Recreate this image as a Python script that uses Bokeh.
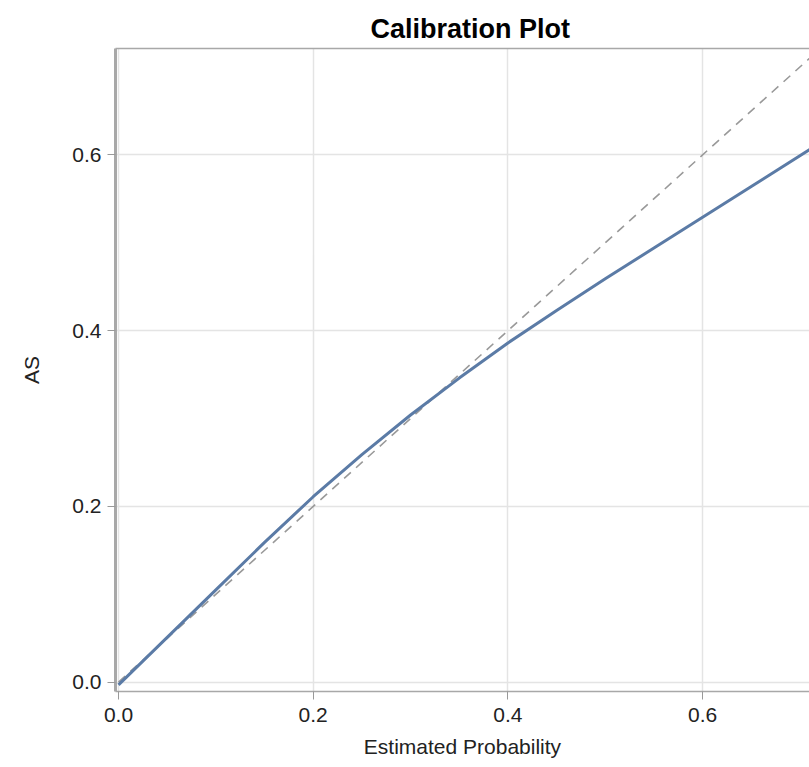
from bokeh.plotting import figure
from bokeh.models import Range1d, FixedTicker, LinearAxis, PrintfTickFormatter
from bokeh.embed import file_html
from bokeh.resources import INLINE

# Calibration curve (estimated probability vs observed AS)
est_prob = [0.0, 0.05, 0.10, 0.15, 0.20, 0.25, 0.30, 0.35, 0.40, 0.45, 0.50, 0.55, 0.60, 0.65, 0.71]
observed = [-0.003, 0.051, 0.105, 0.159, 0.211, 0.259, 0.304, 0.346, 0.386, 0.423, 0.459, 0.494, 0.529, 0.564, 0.606]
# Reference diagonal
diag_x = [0.0, 0.75]
diag_y = [0.0, 0.75]
ticks = [0.0, 0.2, 0.4, 0.6]

FONT = "Liberation Sans"

p = figure(width=809, height=762, output_backend="svg", toolbar_location=None,
           x_range=Range1d(-0.0031, 0.7098), y_range=Range1d(-0.0106, 0.721),
           title="Calibration Plot",
           min_border_left=115, min_border_right=0, min_border_top=48, min_border_bottom=71)

p.title.align = "left"
p.title.offset = 255
p.title.text_font = FONT
p.title.text_font_size = "27px"
p.title.text_font_style = "bold"
p.title.text_color = "#000000"

p.outline_line_color = None
p.background_fill_color = "white"
p.border_fill_color = "white"

for ax in (p.xaxis[0], p.yaxis[0]):
    ax.ticker = FixedTicker(ticks=ticks)
    ax.formatter = PrintfTickFormatter(format="%.1f")
    ax.major_label_text_font = FONT
    ax.major_label_text_font_size = "21px"
    ax.major_label_text_color = "#222222"
    ax.axis_label_text_font = FONT
    ax.axis_label_text_font_size = "21px"
    ax.axis_label_text_font_style = "normal"
    ax.axis_label_text_color = "#222222"
    ax.major_tick_line_color = "#999999"
    ax.major_tick_in = 0
    ax.major_tick_out = 8
    ax.minor_tick_line_color = None
    ax.axis_line_color = "#a8a8a8"

p.xaxis[0].axis_label = "Estimated Probability"
p.yaxis[0].axis_label = "AS"
p.xaxis[0].axis_line_width = 1.5
p.yaxis[0].axis_line_width = 3
p.xaxis[0].major_label_standoff = 8
p.yaxis[0].major_label_standoff = 6
p.yaxis[0].axis_label_standoff = 26
p.xaxis[0].axis_label_standoff = 10

top_axis = LinearAxis(major_tick_line_color=None, minor_tick_line_color=None,
                      major_label_text_font_size="0px", axis_line_color="#a8a8a8",
                      axis_line_width=1.5)
top_axis.ticker = FixedTicker(ticks=[])
p.add_layout(top_axis, "above")

p.xgrid.grid_line_color = "#e4e4e4"
p.ygrid.grid_line_color = "#e4e4e4"
p.xgrid.grid_line_width = 1.5
p.ygrid.grid_line_width = 1.5

p.line(diag_x, diag_y, line_color="#999999", line_width=1.6, line_dash="9 7")
p.line(est_prob, observed, line_color="#5b7ba6", line_width=3)

open("out.html", "w").write(file_html(p, INLINE))
